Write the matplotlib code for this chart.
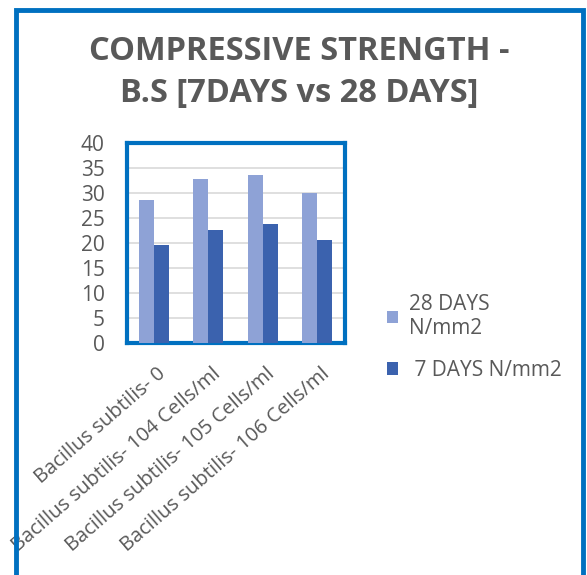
import matplotlib.pyplot as plt
from matplotlib.patches import Rectangle
import numpy as np

# Compressive strength of B.S mixes
categories = ['Bacillus subtilis- 0', 'Bacillus subtilis- 104 Cells/ml',
              'Bacillus subtilis- 105 Cells/ml', 'Bacillus subtilis- 106 Cells/ml']
days28 = [28.6, 32.8, 33.6, 30.1]
days7 = [19.7, 22.7, 23.8, 20.7]
yticks = [0, 5, 10, 15, 20, 25, 30, 35, 40]

plt.rcParams['font.family'] = ['Open Sans', 'DejaVu Sans']
grey = '#595959'
blue = '#0070c0'

fig = plt.figure(figsize=(5.87, 5.75), dpi=100)
ax = fig.add_axes([0.216, 0.403, 0.371, 0.348])

x = np.arange(len(categories))
w = 0.275
ax.bar(x - w / 2, days28, w, color='#8ea2d6', label='28 DAYS\nN/mm2', zorder=3)
ax.bar(x + w / 2, days7, w, color='#3b62ae', label=' 7 DAYS N/mm2', zorder=3)

ax.set_xlim(-0.5, len(categories) - 0.5)
ax.set_ylim(0, 40)
ax.set_yticks(yticks)
ax.yaxis.grid(True, color='#d9d9d9', linewidth=1.2, zorder=0)
ax.tick_params(axis='y', length=0, labelsize=15, labelcolor=grey, pad=16)
ax.tick_params(axis='x', length=0)
ax.set_xticks(x)
ax.set_xticklabels([])
for xi, lab in zip(x, categories):
    ax.annotate(lab, (xi, 0), xytext=(2, -15), textcoords='offset points',
                rotation=41, ha='right', va='top', rotation_mode='anchor',
                fontsize=14.5, color=grey, annotation_clip=False)

for s in ax.spines.values():
    s.set_color(blue)
    s.set_linewidth(3)

fig.text(0.51, 0.911, 'COMPRESSIVE STRENGTH -', ha='center', va='center',
         fontsize=23.5, fontweight='bold', color=grey)
fig.text(0.51, 0.837, 'B.S [7DAYS vs 28 DAYS]', ha='center', va='center',
         fontsize=23.5, fontweight='bold', color=grey)

fig.legend(loc='upper left', bbox_to_anchor=(0.627, 0.522), frameon=False,
           fontsize=15, labelcolor=grey, handlelength=0.55, handleheight=0.55,
           handletextpad=0.5, labelspacing=1.0)

# outer chart border
fig.patches.append(Rectangle((16 / 587, -0.05), (583 - 16) / 587, 1.05 - 10 / 575,
                             transform=fig.transFigure, fill=False,
                             edgecolor=blue, linewidth=3.5))

fig.savefig('out.png', dpi=100)
